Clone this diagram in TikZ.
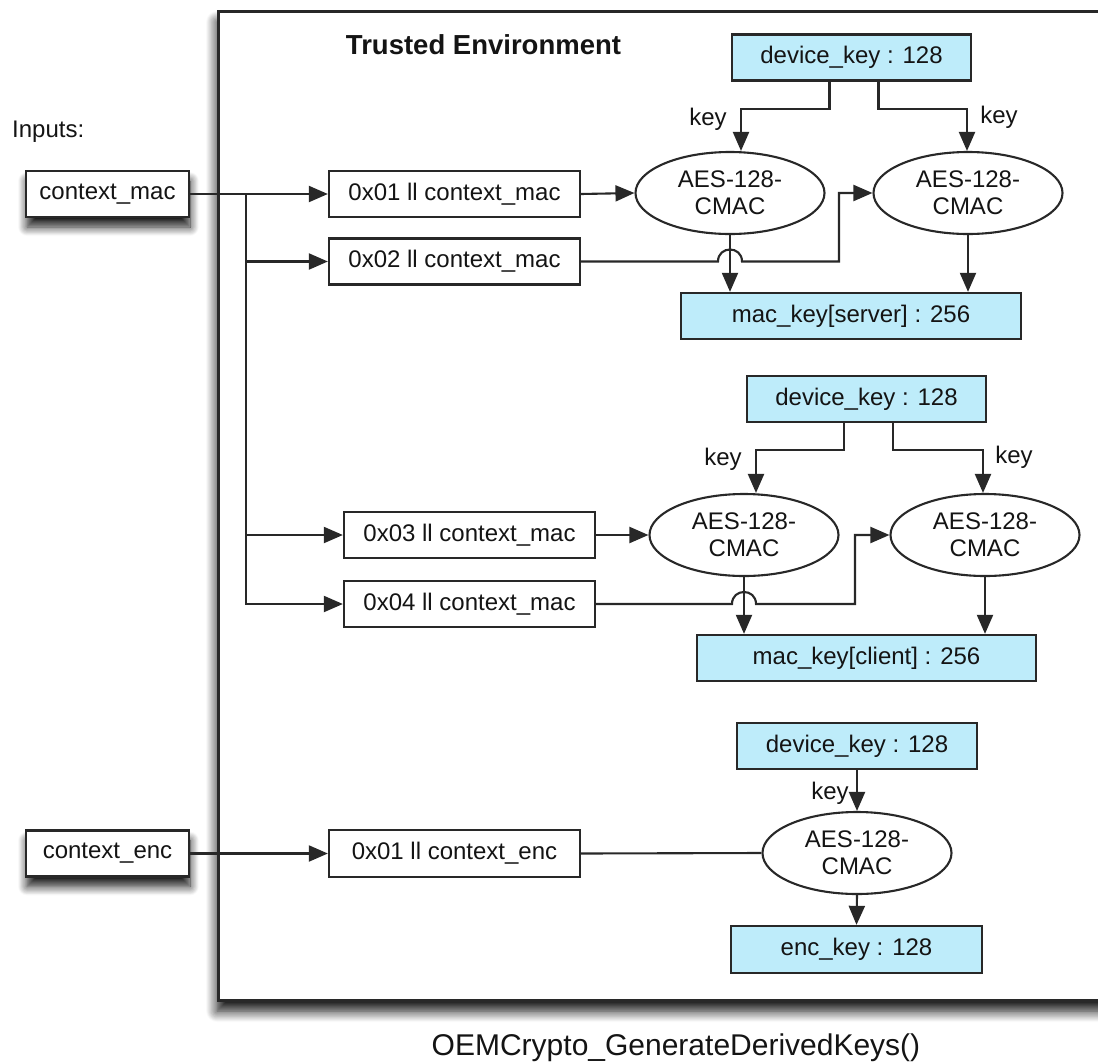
\documentclass[tikz,border=0pt]{standalone}
\usepackage{fontspec}
\setmainfont{Liberation Sans}
\usetikzlibrary{arrows.meta,shapes.geometric,shadows.blur}
\definecolor{keyblue}{RGB}{190,236,250}
\definecolor{edge}{RGB}{40,40,40}
\definecolor{ink}{RGB}{20,20,20}
\begin{document}
\begin{tikzpicture}[x=1pt,y=-1pt,
  every node/.style={text=ink,font=\fontsize{24}{28}\selectfont},
  box/.style={draw=edge,line width=2.3pt,fill=white,rectangle,inner sep=0pt},
  inbox/.style={box,minimum width=163pt,minimum height=46pt,
     blur shadow={shadow xshift=1pt,shadow yshift=-10pt,shadow blur radius=9pt,shadow opacity=90,shadow blur steps=12}},
  wbox/.style={box,minimum width=251pt,minimum height=46pt},
  kbox/.style={box,fill=keyblue,minimum height=46pt},
  cmac/.style={draw=edge,line width=2.1pt,fill=white,ellipse,inner sep=0pt,
     minimum width=189pt,minimum height=82pt,align=center,
     font=\fontsize{24}{27}\selectfont},
  conn/.style={draw=edge,line width=2.1pt},
  arr/.style={conn,-{Triangle[length=19pt,width=16pt]}},
  lbl/.style={inner sep=0pt}
]
\useasboundingbox (0,0) rectangle (1098,1063);
\clip (0,0) rectangle (1098,1063);

% trusted environment
\path[draw=edge,line width=3pt,fill=white,
  blur shadow={shadow xshift=-1pt,shadow yshift=-11pt,shadow blur radius=11pt,shadow opacity=95,shadow blur steps=12}]
  (218,11) rectangle (1130,1000);
\node[lbl,font=\bfseries\fontsize{27.5}{30}\selectfont] (title) at (483.5,45) {Trusted Environment};

% inputs
\node[lbl,anchor=west] (inputs) at (12,132) {Inputs:};
\node[inbox] (cmacin) at (107.5,194) {context\_mac};
\node[inbox] (cencin) at (107.5,853.5) {context\_enc};

% first group
\node[wbox] (b01) at (454.5,194) {0x01 ll context\_mac};
\node[wbox] (b02) at (454.5,261.5) {0x02 ll context\_mac};
\node[kbox,minimum width=239pt] (dk1) at (851.5,57.5) {device\_key : 128};
\node[cmac] (e1) at (730,193) {AES-128-\\CMAC};
\node[cmac] (e2) at (968,193) {AES-128-\\CMAC};
\node[kbox,minimum width=340pt] (msrv) at (851,316) {mac\_key[server] : 256};

% second group
\node[wbox] (b03) at (469.5,535) {0x03 ll context\_mac};
\node[wbox] (b04) at (469.5,604) {0x04 ll context\_mac};
\node[kbox,minimum width=239pt] (dk2) at (866.5,399) {device\_key : 128};
\node[cmac] (e3) at (744,535) {AES-128-\\CMAC};
\node[cmac] (e4) at (985,535) {AES-128-\\CMAC};
\node[kbox,minimum width=339pt] (mcli) at (866.5,658) {mac\_key[client] : 256};

% third group
\node[wbox,minimum height=47pt] (benc) at (454.5,853.5) {0x01 ll context\_enc};
\node[kbox,minimum width=240pt] (dk3) at (857,746) {device\_key : 128};
\node[cmac] (e5) at (857,853) {AES-128-\\CMAC};
\node[kbox,minimum width=251pt,minimum height=47pt] (enck) at (856.5,949.5) {enc\_key : 128};

% key labels
\node[lbl] (k1) at (708,119) {key};
\node[lbl] (k2) at (999,117) {key};
\node[lbl] (k3) at (723,459) {key};
\node[lbl] (k4) at (1014,457) {key};
\node[lbl] (k5) at (830,793) {key};

% caption
\node[lbl,anchor=base,font=\fontsize{30}{34}\selectfont] (cap) at (676,1055) {OEMCrypto\_GenerateDerivedKeys()};

% --- connectors: inputs
\coordinate (br) at (246,194);
\draw[arr] (cmacin.east) -- (b01.west);
\draw[arr] (br) |- (b02.west);
\draw[arr] (br) |- (b03.west);
\draw[arr] (br) |- (b04.west);
\draw[arr] (cencin.east) -- (benc.west);

% --- group 1
\draw[arr] ([xshift=-22pt]dk1.south) -- ++(0,27) -| ([xshift=11pt]e1.north);
\draw[arr] ([xshift=27pt]dk1.south) -- ++(0,27) -| ([xshift=-1pt]e2.north);
\draw[arr] (b01.east) -- (e1.west);
\coordinate (h1) at (e1.south |- b02.east);
\draw[arr] (b02.east) -- ([xshift=-12pt]h1)
   .. controls ([xshift=-12pt,yshift=16pt]h1) and ([xshift=12pt,yshift=16pt]h1) .. ([xshift=12pt]h1)
   -- ([xshift=109pt]h1) |- (e2.west);
\draw[arr] (e1.south) -- (e1.south |- msrv.north);
\draw[arr] (e2.south) -- (e2.south |- msrv.north);

% --- group 2
\draw[arr] ([xshift=-22.5pt]dk2.south) -- ++(0,27) -| ([xshift=12pt]e3.north);
\draw[arr] ([xshift=26.5pt]dk2.south) -- ++(0,27) -| ([xshift=-2pt]e4.north);
\draw[arr] (b03.east) -- (e3.west);
\coordinate (h2) at (e3.south |- b04.east);
\draw[arr] (b04.east) -- ([xshift=-12pt]h2)
   .. controls ([xshift=-12pt,yshift=16pt]h2) and ([xshift=12pt,yshift=16pt]h2) .. ([xshift=12pt]h2)
   -- ([xshift=111pt]h2) |- (e4.west);
\draw[arr] (e3.south) -- (e3.south |- mcli.north);
\draw[arr] (e4.south) -- (e4.south |- mcli.north);

% --- group 3
\draw[conn] (benc.east) -- (e5.west);
\draw[arr] (dk3.south) -- (e5.north);
\draw[arr] (e5.south) -- (enck.north);
\end{tikzpicture}
\end{document}
